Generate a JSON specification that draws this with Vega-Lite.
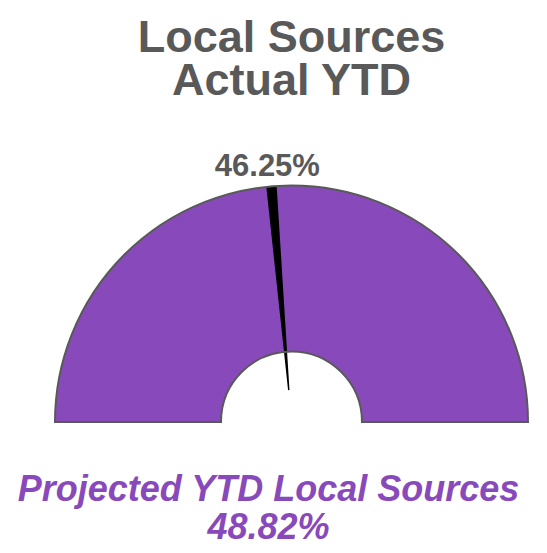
{
  "$schema": "https://vega.github.io/schema/vega-lite/v6.json",
  "width": 511,
  "height": 262,
  "autosize": {"type": "none"},
  "padding": {"left": 36, "top": 291, "right": 0, "bottom": 0},
  "background": "white",
  "config": {"view": {"stroke": null}},
  "title": {
    "text": ["Local Sources", "Actual YTD"],
    "font": "Liberation Sans",
    "fontSize": 45,
    "fontWeight": "bold",
    "color": "#595959",
    "lineHeight": 43,
    "anchor": "middle",
    "frame": "group",
    "baseline": "bottom",
    "offset": 2
  },
  "datasets": {
    "gauge": [{"start": 0, "end": 100}],
    "needle": [{"start": 46.6, "end": 48.0}],
    "labels": [
      {"kind": "actual", "name": "Actual YTD", "value": 46.25, "label": "46.25%"},
      {"kind": "projected", "name": "Projected YTD Local Sources", "value": 48.82, "label": "48.82%"}
    ]
  },
  "layer": [
    {
      "data": {"name": "gauge"},
      "mark": {"type": "arc", "radius": 236.5, "radius2": 70.5, "fill": "#884ABB", "stroke": null},
      "encoding": {
        "theta": {"field": "start", "type": "quantitative", "stack": null, "scale": {"domain": [0, 100], "range": [-1.5707963, 1.5707963]}},
        "theta2": {"field": "end"}
      }
    },
    {
      "data": {"name": "needle"},
      "mark": {"type": "arc", "radius": 236, "radius2": 32, "fill": "black", "stroke": null},
      "encoding": {
        "theta": {"field": "start", "type": "quantitative", "stack": null},
        "theta2": {"field": "end"}
      }
    },
    {
      "data": {"name": "gauge"},
      "mark": {"type": "arc", "radius": 236.5, "radius2": 70.5, "filled": false, "fill": null, "stroke": "#595959", "strokeWidth": 2},
      "encoding": {
        "theta": {"field": "start", "type": "quantitative", "stack": null},
        "theta2": {"field": "end"}
      }
    },
    {
      "data": {"name": "labels"},
      "transform": [{"filter": "datum.kind == 'actual'"}],
      "mark": {"type": "text", "radius": 248, "font": "Liberation Sans", "fontSize": 31, "fontWeight": "bold", "fill": "#595959", "align": "center", "baseline": "alphabetic", "dx": 5},
      "encoding": {
        "theta": {"field": "value", "type": "quantitative", "stack": null},
        "text": {"field": "label"}
      }
    },
    {
      "data": {"name": "labels"},
      "transform": [{"filter": "datum.kind == 'projected'"}],
      "mark": {"type": "text", "text": {"expr": "[datum.name, datum.label]"}, "font": "Liberation Sans", "fontSize": 36, "fontWeight": "bold", "fontStyle": "italic", "fill": "#884ABB", "align": "center", "baseline": "alphabetic", "lineHeight": 37.5, "dx": -23, "dy": 79},
      "encoding": {}
    }
  ]
}
